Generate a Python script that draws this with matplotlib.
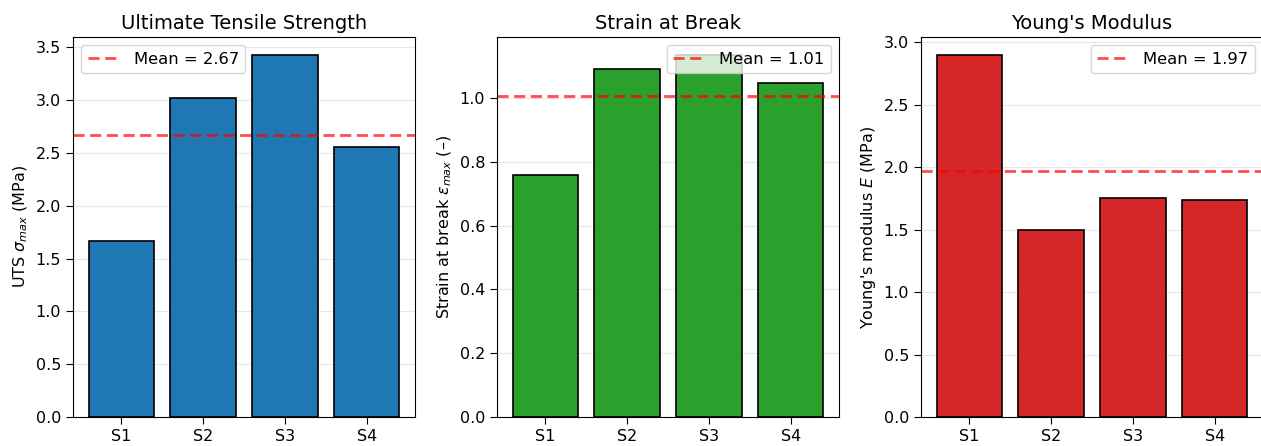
import matplotlib
matplotlib.use("Agg")
import matplotlib.pyplot as plt
import numpy as np

samples = ["S1", "S2", "S3", "S4"]
uts = [1.665, 3.018, 3.425, 2.555]
strain = [0.758, 1.091, 1.135, 1.047]
modulus = [2.896, 1.496, 1.752, 1.736]

titles = ["Ultimate Tensile Strength", "Strain at Break", "Young's Modulus"]
ylabels = [r"UTS $\sigma_{max}$ (MPa)", r"Strain at break $\varepsilon_{max}$ (–)",
           r"Young's modulus $E$ (MPa)"]
colors = ["tab:blue", "tab:green", "tab:red"]
legend_locs = ["upper left", "upper right", "upper right"]
series = [uts, strain, modulus]

fig = plt.figure(figsize=(12.61, 4.46), dpi=100)
W, H = 1261, 446
lefts = [73, 497, 921]
for i in range(3):
    ax = fig.add_axes([lefts[i] / W, (H - 417) / H, 342 / W, 380 / H])
    vals = series[i]
    ax.bar(samples, vals, color=colors[i], edgecolor="black", linewidth=1.2)
    m = np.mean(vals)
    ax.axhline(m, color="red", linestyle=(0, (4, 2)), linewidth=2, alpha=0.7,
               label=f"Mean = {m:.2f}")
    ax.set_title(titles[i], fontsize=14)
    ax.set_ylabel(ylabels[i], fontsize=11.5)
    ax.tick_params(labelsize=11.5, length=5)
    ax.grid(axis="y", alpha=0.3)
    ax.set_axisbelow(True)
    ax.legend(loc=legend_locs[i], fontsize=11.8)

fig.savefig("out.png", dpi=100)
